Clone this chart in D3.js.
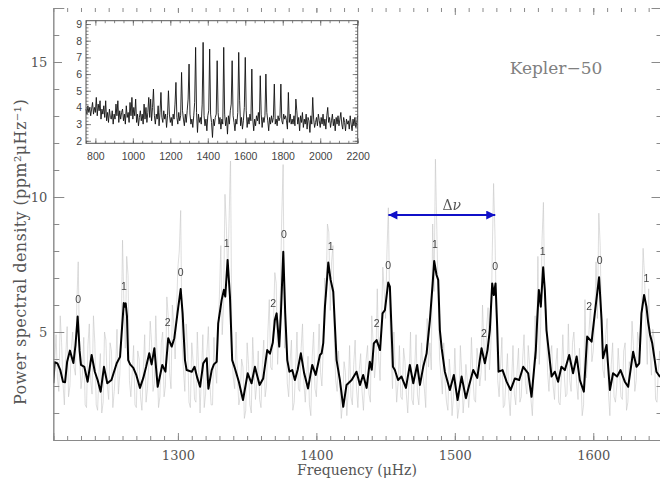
<!DOCTYPE html>
<html>
<head>
<meta charset="utf-8">
<script src="https://cdn.jsdelivr.net/npm/d3@7"></script>
<style>
  body { margin: 0; background: #fff; }
  svg { display: block; }
  .mono { filter: grayscale(1); }
</style>
</head>
<body>
<div id="chart"></div>
<script>
// raw power spectrum (grey): values at even frequencies from 1210 muHz ...
const rawStart = 1210, rawStep = 2;
const rawPower = [
  2.6, 4.9, 2.8, 4.6, 2.3, 5.2, 3.0, 5.0, 3.4, 7.6,
  2.9, 4.8, 2.2, 5.3, 2.7, 4.6, 2.1, 4.2, 2.4, 4.7,
  2.5, 4.3, 2.8, 5.1, 3.4, 8.4, 4.4, 7.1, 2.6, 4.5,
  2.2, 4.0, 2.1, 4.9, 2.9, 5.4, 2.8, 5.6, 2.2, 4.6,
  2.6, 6.3, 3.5, 6.0, 4.0, 7.4, 9.5, 3.6, 5.3, 2.4,
  4.6, 2.5, 5.0, 2.0, 4.9, 2.7, 5.2, 2.3, 4.8, 3.1,
  6.4, 4.9, 10.1, 7.0, 11.5, 3.3, 5.0, 2.3, 4.0, 1.8,
  4.6, 2.3, 4.8, 2.5, 4.3, 2.2, 4.7, 3.0, 6.2, 3.6,
  7.2, 3.8, 6.4, 11.2, 5.2, 2.6, 4.7, 2.4, 5.0, 2.8,
  5.3, 2.4, 4.1, 1.9, 5.0, 2.6, 5.3, 3.0, 7.0, 9.0,
  5.8, 8.2, 3.2, 4.3, 1.8, 3.9, 1.9, 4.5, 2.3, 4.7,
  2.2, 4.2, 2.1, 4.0, 2.7, 5.6, 3.3, 6.6, 3.2, 7.4,
  5.5, 9.6, 4.2, 5.0, 2.4, 4.5, 2.5, 3.9, 2.0, 5.0,
  2.3, 4.9, 2.3, 4.6, 2.9, 5.5, 4.6, 9.0, 11.4, 6.3,
  3.4, 4.6, 2.4, 4.0, 1.9, 4.4, 1.8, 4.5, 2.0, 3.8,
  2.2, 4.8, 2.5, 4.4, 3.0, 6.0, 3.2, 5.9, 4.4, 10.5,
  5.6, 2.6, 4.8, 2.3, 4.2, 1.9, 4.5, 2.3, 4.4, 2.6,
  4.9, 2.7, 3.8, 1.9, 5.6, 7.8, 5.2, 9.8, 5.8, 2.8,
  4.5, 2.5, 4.4, 2.3, 4.9, 2.6, 5.3, 2.8, 5.0, 3.1,
  4.4, 1.9, 6.2, 4.0, 6.0, 4.3, 7.6, 9.4, 5.0, 3.3,
  5.5, 1.9, 4.6, 2.4, 4.4, 2.6, 4.3, 2.1, 3.9, 5.4,
  2.8, 5.0, 4.3, 8.1, 5.2, 6.6, 3.4, 4.7, 2.4, 4.3, 2.7
];
// ... and at odd frequencies from 1211 muHz
const rawOddStart = 1211;
const rawPowerOdd = [
  3.9, 3.3, 5.6, 3.1, 4.1, 2.6, 4.4, 3.7, 6.1, 4.1,
  3.4, 2.3, 4.5, 3.2, 5.6, 2.3, 3.5, 2.0, 5.0, 3.0,
  4.6, 2.2, 3.6, 2.7, 4.8, 6.0, 7.8, 3.2, 3.5, 2.3,
  4.3, 2.6, 3.6, 2.4, 3.8, 4.6, 3.1, 4.0, 2.6, 5.0,
  3.0, 5.6, 2.9, 5.3, 5.8, 8.0, 4.6, 2.8, 4.4, 2.2,
  3.9, 2.4, 3.6, 3.4, 2.2, 4.3, 3.2, 2.3, 3.7, 4.9,
  8.2, 6.0, 8.9, 9.2, 4.2, 2.9, 3.4, 2.6, 3.7, 2.1,
  3.8, 2.0, 3.6, 3.1, 2.5, 3.8, 2.6, 5.0, 3.7, 5.3,
  6.8, 4.9, 9.3, 4.4, 3.1, 3.9, 2.1, 3.6, 2.9, 4.4,
  3.1, 3.4, 2.3, 4.1, 2.9, 3.8, 3.5, 4.4, 6.3, 8.7,
  7.6, 4.6, 2.8, 3.0, 2.4, 3.5, 2.8, 2.6, 3.8, 2.9,
  3.6, 2.8, 3.2, 4.5, 2.4, 4.6, 3.9, 4.1, 5.2, 6.5,
  8.0, 5.7, 2.9, 3.6, 3.1, 2.6, 4.4, 2.7, 3.3, 2.5,
  3.6, 2.7, 3.5, 3.4, 2.2, 3.7, 3.6, 6.5, 8.8, 4.0,
  2.7, 3.1, 2.1, 3.3, 2.6, 3.0, 2.2, 3.5, 2.7, 3.2,
  2.9, 3.5, 2.4, 3.9, 3.5, 4.6, 5.2, 3.6, 7.8, 8.6,
  3.2, 3.7, 2.2, 3.3, 2.6, 3.1, 2.7, 3.6, 2.4, 4.0,
  3.1, 4.5, 2.5, 3.2, 4.0, 3.8, 8.4, 6.0, 3.5, 4.1,
  3.0, 3.8, 2.4, 3.4, 3.5, 2.7, 3.2, 4.6, 3.9, 2.5,
  3.4, 2.3, 3.3, 5.1, 3.9, 5.4, 5.5, 8.2, 3.6, 4.9,
  2.7, 3.8, 2.6, 3.0, 3.5, 2.5, 4.6, 2.4, 3.6, 4.5,
  3.2, 4.6, 6.0, 7.1, 3.8, 4.3, 5.1, 2.5, 3.6, 3.0
];

// smoothed spectrum (black)
const smoothFreq = [
  1210, 1211, 1213, 1215, 1217, 1218.5, 1220, 1222, 1224.5, 1226, 1227.6, 1229, 1230,
  1232.4, 1234.8, 1237.7, 1240, 1242, 1244.2, 1246.6, 1249, 1252, 1255.8, 1258.2, 1259.7,
  1260.9, 1261.7, 1262.3, 1263.2, 1264.1, 1265.5, 1267.8, 1270, 1272.6, 1275, 1277, 1279.3,
  1281, 1283, 1285.4, 1288.7, 1291, 1293, 1295.5, 1297.4, 1300.3, 1302, 1303.4, 1305.1,
  1306.3, 1310, 1312, 1314, 1316, 1318.3, 1320.8, 1322, 1324.4, 1326, 1328, 1329.1, 1331.6,
  1333.2, 1334.2, 1335.9, 1337.6, 1339.2, 1341.2, 1344, 1347, 1350.4, 1353.2, 1355.6, 1359,
  1361.6, 1364.5, 1366.5, 1368.5, 1370, 1371.3, 1373.2, 1374.4, 1376.1, 1377.5, 1379, 1380.5,
  1382.6, 1384.5, 1386.5, 1388.8, 1391.2, 1394, 1397, 1399.5, 1402.6, 1403.8, 1405, 1406.2,
  1408.6, 1410.3, 1412.2, 1414.6, 1417, 1419.4, 1421.8, 1425.5, 1429, 1431.5, 1433.8, 1436.3,
  1438.6, 1440, 1441.5, 1443.5, 1446, 1447.8, 1449.5, 1451.9, 1453.1, 1454.3, 1455.3, 1456.7,
  1459, 1461.5, 1464.7, 1467.5, 1470, 1472.8, 1474.8, 1477.2, 1479.6, 1482, 1484, 1485.1,
  1486.8, 1488, 1489.2, 1490.5, 1492.8, 1496.4, 1499.3, 1502, 1504.9, 1508, 1510.4, 1513.3,
  1516.2, 1519.3, 1521.7, 1523.6, 1525.3, 1527, 1528.2, 1529.4, 1530.6, 1531.6, 1534.5,
  1537.4, 1540.3, 1543.4, 1546.5, 1549.4, 1553, 1555.4, 1558.5, 1559.5, 1560.7, 1562.1,
  1563.8, 1565, 1566.2, 1567.5, 1569.9, 1572.2, 1574.6, 1577, 1579.5, 1582.6, 1585.4, 1588,
  1590.3, 1593.2, 1595.6, 1598.8, 1601.1, 1604.2, 1606, 1607, 1609.6, 1612, 1614.3, 1617.2,
  1619.7, 1622.8, 1625.2, 1628.8, 1631.2, 1633.2, 1634.8, 1636.7, 1638.4, 1639.6, 1641,
  1642.6, 1645.6, 1648, 1650
];
const smoothPower = [
  3.1, 3.88, 3.84, 3.6, 3.16, 3.14, 3.9, 4.31, 3.85, 4.5, 5.57, 4.3, 3.78,
  3.71, 3.16, 4.15, 3.53, 3.22, 2.79, 3.71, 3.1, 3.22, 3.84, 4.08, 5.2,
  6.07, 5.94, 6.06, 5.6, 3.96, 3.8, 3.67, 3.4, 2.93, 3.3, 3.7, 4.21,
  3.8, 4.4, 2.97, 3.78, 3.53, 4.77, 4.46, 4.77, 5.94, 6.59, 5.69, 3.96,
  3.59, 3.53, 3.71, 3.3, 2.97, 3.84, 4.03, 2.9, 3.59, 3.8, 3.9, 5.32, 6.19,
  6.56, 6.31, 7.67, 6.31, 3.96, 3.65, 3.16, 2.48, 3.47, 3.1, 3.71, 3.04,
  3.28, 4.33, 4.2, 4.6, 5.44, 5.69, 4.46, 5.7, 7.97, 5.69, 3.96, 3.53,
  3.59, 3.22, 3.6, 4.21, 3.47, 2.91, 3.78, 3.41, 4.15, 4.21, 4.6, 5.94,
  7.57, 6.93, 6.49, 3.96, 3.22, 2.23, 3.04, 3.22, 3.53, 3.04, 3.41, 2.93,
  3.9, 3.6, 4.58, 4.7, 4.33, 5.69, 5.81, 6.83, 6.68, 5.07, 3.71, 3.59,
  3.22, 3.35, 2.93, 3.78, 3.1, 3.78, 3.04, 3.71, 4.2, 5.44, 6.8, 7.63,
  7.11, 6.93, 5.07, 4.4, 3.53, 2.85, 3.41, 2.48, 3.35, 2.55, 3.04, 3.59,
  3.3, 4.4, 3.84, 4.33, 5.07, 6.8, 6.37, 6.8, 5.2, 3.53, 3.59,
  3.16, 2.85, 3.28, 3.22, 3.71, 3.47, 2.6, 4.33, 5.44, 6.56, 5.94,
  7.4, 6.56, 5.07, 4.46, 3.35, 3.53, 3.16, 3.71, 3.59, 4.15, 3.47, 4.09,
  3.22, 2.79, 4.83, 4.64, 5.69, 7.03, 5.44, 4.03, 4.52, 2.85, 3.47, 3.35,
  3.59, 3.16, 2.97, 4.27, 3.71, 3.84, 5.69, 6.37, 5.94, 5.38, 4.9,
  4.58, 3.53, 3.35, 3.5
];

// mode identifications (angular degree l) and label heights
const modeFreq   = [1228, 1261, 1292.6, 1302, 1335.2, 1368.8, 1376.6, 1410.3, 1443.5,
                    1451.9, 1485.6, 1521, 1529.2, 1563.4, 1597, 1604.7, 1638.4];
const modeDegree = [0, 1, 2, 0, 1, 2, 0, 1, 2, 0, 1, 2, 0, 1, 2, 0, 1];
const modeLabelY = [6.21, 6.71, 5.36, 7.23, 8.29, 6.06, 8.62, 8.19, 5.34,
                    7.48, 8.25, 4.95, 7.44, 8.0, 5.96, 7.67, 6.99];

// large separation marker
const dnuFrom = 1452, dnuTo = 1529.2, dnuLevel = 9.33;

// inset: full spectrum, one value every 5 muHz starting at 750
const insetStart = 750, insetStep = 5;
const insetPower = [
  3.9, 3.6, 4.1, 3.7, 4.0, 3.5, 3.9, 4.3, 3.6, 4.0,
  3.7, 4.6, 3.5, 4.2, 3.8, 4.4, 3.3, 3.9, 3.6, 4.1,
  3.4, 4.4, 3.2, 3.7, 3.1, 3.9, 3.4, 3.3, 3.8, 3.0,
  3.6, 3.3, 4.2, 3.5, 4.4, 3.1, 3.8, 3.3, 3.7, 3.9,
  3.2, 3.6, 3.0, 4.1, 3.4, 3.7, 3.1, 4.3, 3.5, 4.6,
  3.3, 4.0, 3.5, 4.5, 3.1, 3.6, 2.9, 3.4, 3.8, 3.2,
  3.6, 3.0, 4.2, 3.3, 4.0, 3.1, 3.7, 4.6, 3.4, 4.5,
  3.2, 4.0, 5.1, 3.5, 3.0, 3.6, 3.3, 4.1, 2.9, 3.7,
  4.9, 3.4, 3.1, 3.8, 3.3, 3.6, 2.8, 3.5, 5.0, 3.6,
  3.1, 3.4, 2.9, 3.6, 3.3, 4.2, 5.5, 3.4, 3.0, 3.7,
  3.2, 3.5, 6.1, 3.8, 3.3, 2.9, 3.6, 3.1, 3.8, 4.5,
  6.6, 3.6, 3.0, 3.3, 2.8, 3.5, 4.3, 7.6, 3.7, 2.5,
  3.6, 3.1, 3.4, 3.0, 4.2, 7.9, 3.5, 2.9, 3.3, 2.6,
  3.5, 3.8, 7.5, 3.6, 3.1, 2.2, 3.3, 2.9, 3.4, 3.6,
  6.8, 3.7, 3.0, 3.4, 2.7, 3.3, 3.0, 7.6, 3.6, 2.9,
  3.4, 2.4, 3.5, 3.0, 3.8, 4.2, 6.8, 3.5, 3.1, 2.6,
  3.3, 3.0, 3.7, 7.3, 4.4, 2.9, 3.4, 2.7, 3.2, 4.0,
  7.0, 3.8, 2.8, 3.4, 3.0, 3.6, 3.2, 6.3, 3.3, 2.6,
  3.3, 2.9, 3.5, 3.2, 3.7, 3.0, 5.9, 3.6, 2.8, 3.4,
  3.1, 3.5, 6.0, 3.7, 3.2, 2.6, 3.4, 3.0, 3.5, 3.1,
  3.4, 5.4, 3.0, 3.3, 2.9, 3.5, 3.2, 3.4, 5.4, 3.2,
  3.0, 3.6, 3.3, 3.5, 3.2, 2.7, 4.9, 3.1, 3.6, 3.0,
  3.3, 3.0, 3.5, 2.9, 4.5, 3.8, 3.0, 3.4, 2.6, 3.5,
  3.1, 3.7, 2.8, 3.3, 3.0, 3.6, 2.7, 3.4, 3.2, 2.5,
  3.5, 3.0, 4.6, 3.3, 2.8, 3.1, 3.4, 2.9, 3.6, 3.2,
  2.8, 3.4, 3.0, 3.6, 2.9, 3.3, 2.7, 3.5, 4.0, 3.1,
  3.4, 2.8, 3.2, 3.6, 2.9, 3.3, 2.6, 3.4, 3.0, 3.5,
  2.9, 3.3, 3.7, 3.0, 2.7, 3.4, 3.1, 2.6, 3.3, 3.0,
  3.2, 2.7, 3.5, 3.0, 2.6, 3.3, 2.9, 3.4, 2.8, 3.1,
  3.5
];

const xTicks = [1300, 1400, 1500, 1600];
const yTicks = [5, 10, 15];
const insetXTicks = [800, 1000, 1200, 1400, 1600, 1800, 2000, 2200];
const insetYTicks = [2, 3, 4, 5, 6, 7, 8, 9];

class SpectrumChart {
  constructor(parentId, width, height) {
    this.parentId = parentId;
    this.width = width;
    this.height = height;
    this.box = {left: 53.3, right: 662.5, top: 8, bottom: 440};
    this.init();
  }

  init() {
    let vis = this;
    const axisGrey = "#8a8a8a";
    const serif = "'DejaVu Serif', serif";
    const sans = "'Liberation Sans', Arial, sans-serif";

    vis.svg = d3.select("#" + vis.parentId)
      .append("svg")
      .attr("width", vis.width)
      .attr("height", vis.height);

    vis.x = d3.scaleLinear().domain([1210, 1650]).range([vis.box.left, vis.box.right]);
    vis.y = d3.scaleLinear().domain([1, 17]).range([vis.box.bottom, vis.box.top]);

    vis.svg.append("clipPath").attr("id", "plotClip")
      .append("rect")
      .attr("x", vis.box.left).attr("y", vis.box.top)
      .attr("width", vis.box.right - vis.box.left)
      .attr("height", vis.box.bottom - vis.box.top);

    let plot = vis.svg.append("g").attr("clip-path", "url(#plotClip)");

    // grey raw spectrum: merge the even and odd samples
    let raw = rawPower.map((p, i) => [rawStart + i * rawStep, p])
      .concat(rawPowerOdd.map((p, i) => [rawOddStart + i * rawStep, p]))
      .sort((a, b) => a[0] - b[0]);
    plot.append("path")
      .datum(raw)
      .attr("fill", "none")
      .attr("stroke", "#c6c6c6")
      .attr("stroke-width", 0.6)
      .attr("d", d3.line().x(d => vis.x(d[0])).y(d => vis.y(d[1])));

    // black smoothed spectrum
    let smooth = smoothFreq.map((f, i) => [f, smoothPower[i]]);
    plot.append("path")
      .datum(smooth)
      .attr("fill", "none")
      .attr("stroke", "#000")
      .attr("stroke-width", 2)
      .attr("stroke-linejoin", "round")
      .attr("d", d3.line().x(d => vis.x(d[0])).y(d => vis.y(d[1])));

    // axes (ticks point inwards, mirrored on all sides)
    const styleAxis = g => {
      g.select(".domain").attr("stroke", axisGrey);
      g.selectAll(".tick line").attr("stroke", axisGrey);
      g.selectAll("text").attr("fill", "#555").style("font-family", serif).style("font-size", "13px");
    };
    let minorX = d3.range(1210, 1651, 10);
    let minorY = d3.range(2, 17, 1);

    vis.svg.append("g").attr("transform", `translate(0,${vis.box.bottom})`)
      .call(d3.axisBottom(vis.x).tickValues(minorX).tickSize(-4).tickFormat("")).call(styleAxis);
    vis.svg.append("g").attr("transform", `translate(0,${vis.box.bottom})`)
      .call(d3.axisBottom(vis.x).tickValues(xTicks).tickSize(-7).tickPadding(11).tickFormat(d3.format("d")))
      .call(styleAxis);
    let top = vis.svg.append("g").attr("transform", `translate(0,${vis.box.top})`)
      .call(d3.axisTop(vis.x).tickValues(minorX).tickSize(-4).tickFormat("")).call(styleAxis);
    top.select(".domain").remove();
    let top2 = vis.svg.append("g").attr("transform", `translate(0,${vis.box.top})`)
      .call(d3.axisTop(vis.x).tickValues(xTicks).tickSize(-7).tickFormat("")).call(styleAxis);
    top2.select(".domain").remove();

    vis.svg.append("g").attr("transform", `translate(${vis.box.left},0)`)
      .call(d3.axisLeft(vis.y).tickValues(minorY).tickSize(-6).tickFormat("")).call(styleAxis);
    vis.svg.append("g").attr("transform", `translate(${vis.box.left},0)`)
      .call(d3.axisLeft(vis.y).tickValues(yTicks).tickSize(-11).tickPadding(6).tickFormat(d3.format("d")))
      .call(styleAxis);
    vis.svg.append("g").attr("transform", `translate(${vis.box.right},0)`)
      .call(d3.axisRight(vis.y).tickValues(minorY).tickSize(-6).tickFormat("")).call(styleAxis);
    vis.svg.append("g").attr("transform", `translate(${vis.box.right},0)`)
      .call(d3.axisRight(vis.y).tickValues(yTicks).tickSize(-11).tickFormat("")).call(styleAxis);

    // axis titles
    vis.svg.append("text")
      .attr("x", 357)
      .attr("y", 475)
      .attr("text-anchor", "middle")
      .attr("fill", "#555")
      .style("font-family", serif)
      .style("font-size", "14px")
      .text("Frequency (\u03bcHz)");

    vis.svg.append("text")
      .attr("transform", "translate(26,252) rotate(-90)")
      .attr("text-anchor", "middle")
      .attr("fill", "#555")
      .style("font-family", serif)
      .style("font-size", "16px")
      .style("letter-spacing", "0.4px")
      .text("Power spectral density (ppm\u00b2\u03bcHz\u207b\u00b9)");

    vis.svg.append("text")
      .attr("x", 556).attr("y", 74)
      .attr("text-anchor", "middle")
      .attr("fill", "#808080")
      .style("font-family", serif)
      .style("font-size", "17px")
      .text("Kepler\u221250");

    // mode degree labels
    vis.svg.append("g").attr("class", "mono").selectAll(".mode")
      .data(modeFreq)
      .enter()
      .append("text")
      .attr("class", "mode")
      .attr("x", d => vis.x(d))
      .attr("y", (d, i) => vis.y(modeLabelY[i]) + 4)
      .attr("text-anchor", "middle")
      .attr("fill", "#444")
      .style("font-family", sans)
      .style("font-size", "10.5px")
      .text((d, i) => modeDegree[i]);

    // delta nu arrow
    let defs = vis.svg.append("defs");
    ["start", "end"].forEach(k => {
      defs.append("marker")
        .attr("id", "head-" + k)
        .attr("viewBox", "0 0 10 10")
        .attr("refX", 10).attr("refY", 5)
        .attr("markerWidth", 10).attr("markerHeight", 9)
        .attr("markerUnits", "userSpaceOnUse")
        .attr("orient", k === "end" ? "auto" : "auto-start-reverse")
        .append("path")
        .attr("d", "M0,0 L10,5 L0,10 Z")
        .attr("fill", "#1010c8");
    });
    vis.svg.append("line")
      .attr("x1", vis.x(dnuFrom)).attr("x2", vis.x(dnuTo))
      .attr("y1", vis.y(dnuLevel)).attr("y2", vis.y(dnuLevel))
      .attr("stroke", "#1010c8")
      .attr("stroke-width", 2)
      .attr("marker-start", "url(#head-start)")
      .attr("marker-end", "url(#head-end)");
    let dnuText = vis.svg.append("text")
      .attr("class", "mono")
      .attr("x", vis.x((dnuFrom + dnuTo) / 2) + 10)
      .attr("y", vis.y(dnuLevel) - 5)
      .attr("text-anchor", "middle")
      .attr("fill", "#555")
      .style("font-family", serif)
      .style("font-size", "14px");
    dnuText.append("tspan").text("\u0394");
    dnuText.append("tspan").style("font-style", "italic").text("\u03bd");

    vis.drawInset();
  }

  drawInset() {
    let vis = this;
    const axisGrey = "#555";
    const sans = "'Liberation Sans', Arial, sans-serif";
    let ib = {left: 86, right: 357.7, top: 20.7, bottom: 143.3};

    let g = vis.svg.append("g");
    g.append("rect")
      .attr("x", 62).attr("y", 13)
      .attr("width", 308).attr("height", 148)
      .attr("fill", "#fff");

    let ix = d3.scaleLinear().domain([750, 2200]).range([ib.left, ib.right]);
    let iy = d3.scaleLinear().domain([1.85, 9.2]).range([ib.bottom, ib.top]);

    let pts = insetPower.map((p, i) => [insetStart + i * insetStep, p]);
    g.append("path")
      .datum(pts)
      .attr("fill", "none")
      .attr("stroke", "#111")
      .attr("stroke-width", 0.9)
      .attr("d", d3.line().x(d => ix(d[0])).y(d => iy(d[1])));

    const style = a => {
      a.select(".domain").remove();
      a.selectAll(".tick line").attr("stroke", axisGrey).attr("stroke-width", 0.7);
      a.selectAll("text").attr("fill", "#444").style("font-family", sans).style("font-size", "10.5px");
    };
    let minorIX = d3.range(750, 2201, 50);
    let minorIY = d3.range(2, 9.2, 0.2);

    g.append("g").attr("transform", `translate(0,${ib.bottom})`)
      .call(d3.axisBottom(ix).tickValues(minorIX).tickSize(-2.5).tickFormat("")).call(style);
    g.append("g").attr("transform", `translate(0,${ib.bottom})`)
      .call(d3.axisBottom(ix).tickValues(insetXTicks).tickSize(-5).tickPadding(9).tickFormat(d3.format("d"))).call(style);
    g.append("g").attr("transform", `translate(0,${ib.top})`)
      .call(d3.axisTop(ix).tickValues(minorIX).tickSize(-2.5).tickFormat("")).call(style);
    g.append("g").attr("transform", `translate(0,${ib.top})`)
      .call(d3.axisTop(ix).tickValues(insetXTicks).tickSize(-5).tickFormat("")).call(style);
    g.append("g").attr("transform", `translate(${ib.left},0)`)
      .call(d3.axisLeft(iy).tickValues(minorIY).tickSize(-2.5).tickFormat("")).call(style);
    g.append("g").attr("transform", `translate(${ib.left},0)`)
      .call(d3.axisLeft(iy).tickValues(insetYTicks).tickSize(-5).tickPadding(4).tickFormat(d3.format("d"))).call(style);
    g.append("g").attr("transform", `translate(${ib.right},0)`)
      .call(d3.axisRight(iy).tickValues(minorIY).tickSize(-2.5).tickFormat("")).call(style);
    g.append("g").attr("transform", `translate(${ib.right},0)`)
      .call(d3.axisRight(iy).tickValues(insetYTicks).tickSize(-5).tickFormat("")).call(style);

    g.append("rect")
      .attr("x", ib.left).attr("y", ib.top)
      .attr("width", ib.right - ib.left).attr("height", ib.bottom - ib.top)
      .attr("fill", "none")
      .attr("stroke", axisGrey)
      .attr("stroke-width", 1);
  }
}

new SpectrumChart("chart", 660, 479);
</script>
</body>
</html>
